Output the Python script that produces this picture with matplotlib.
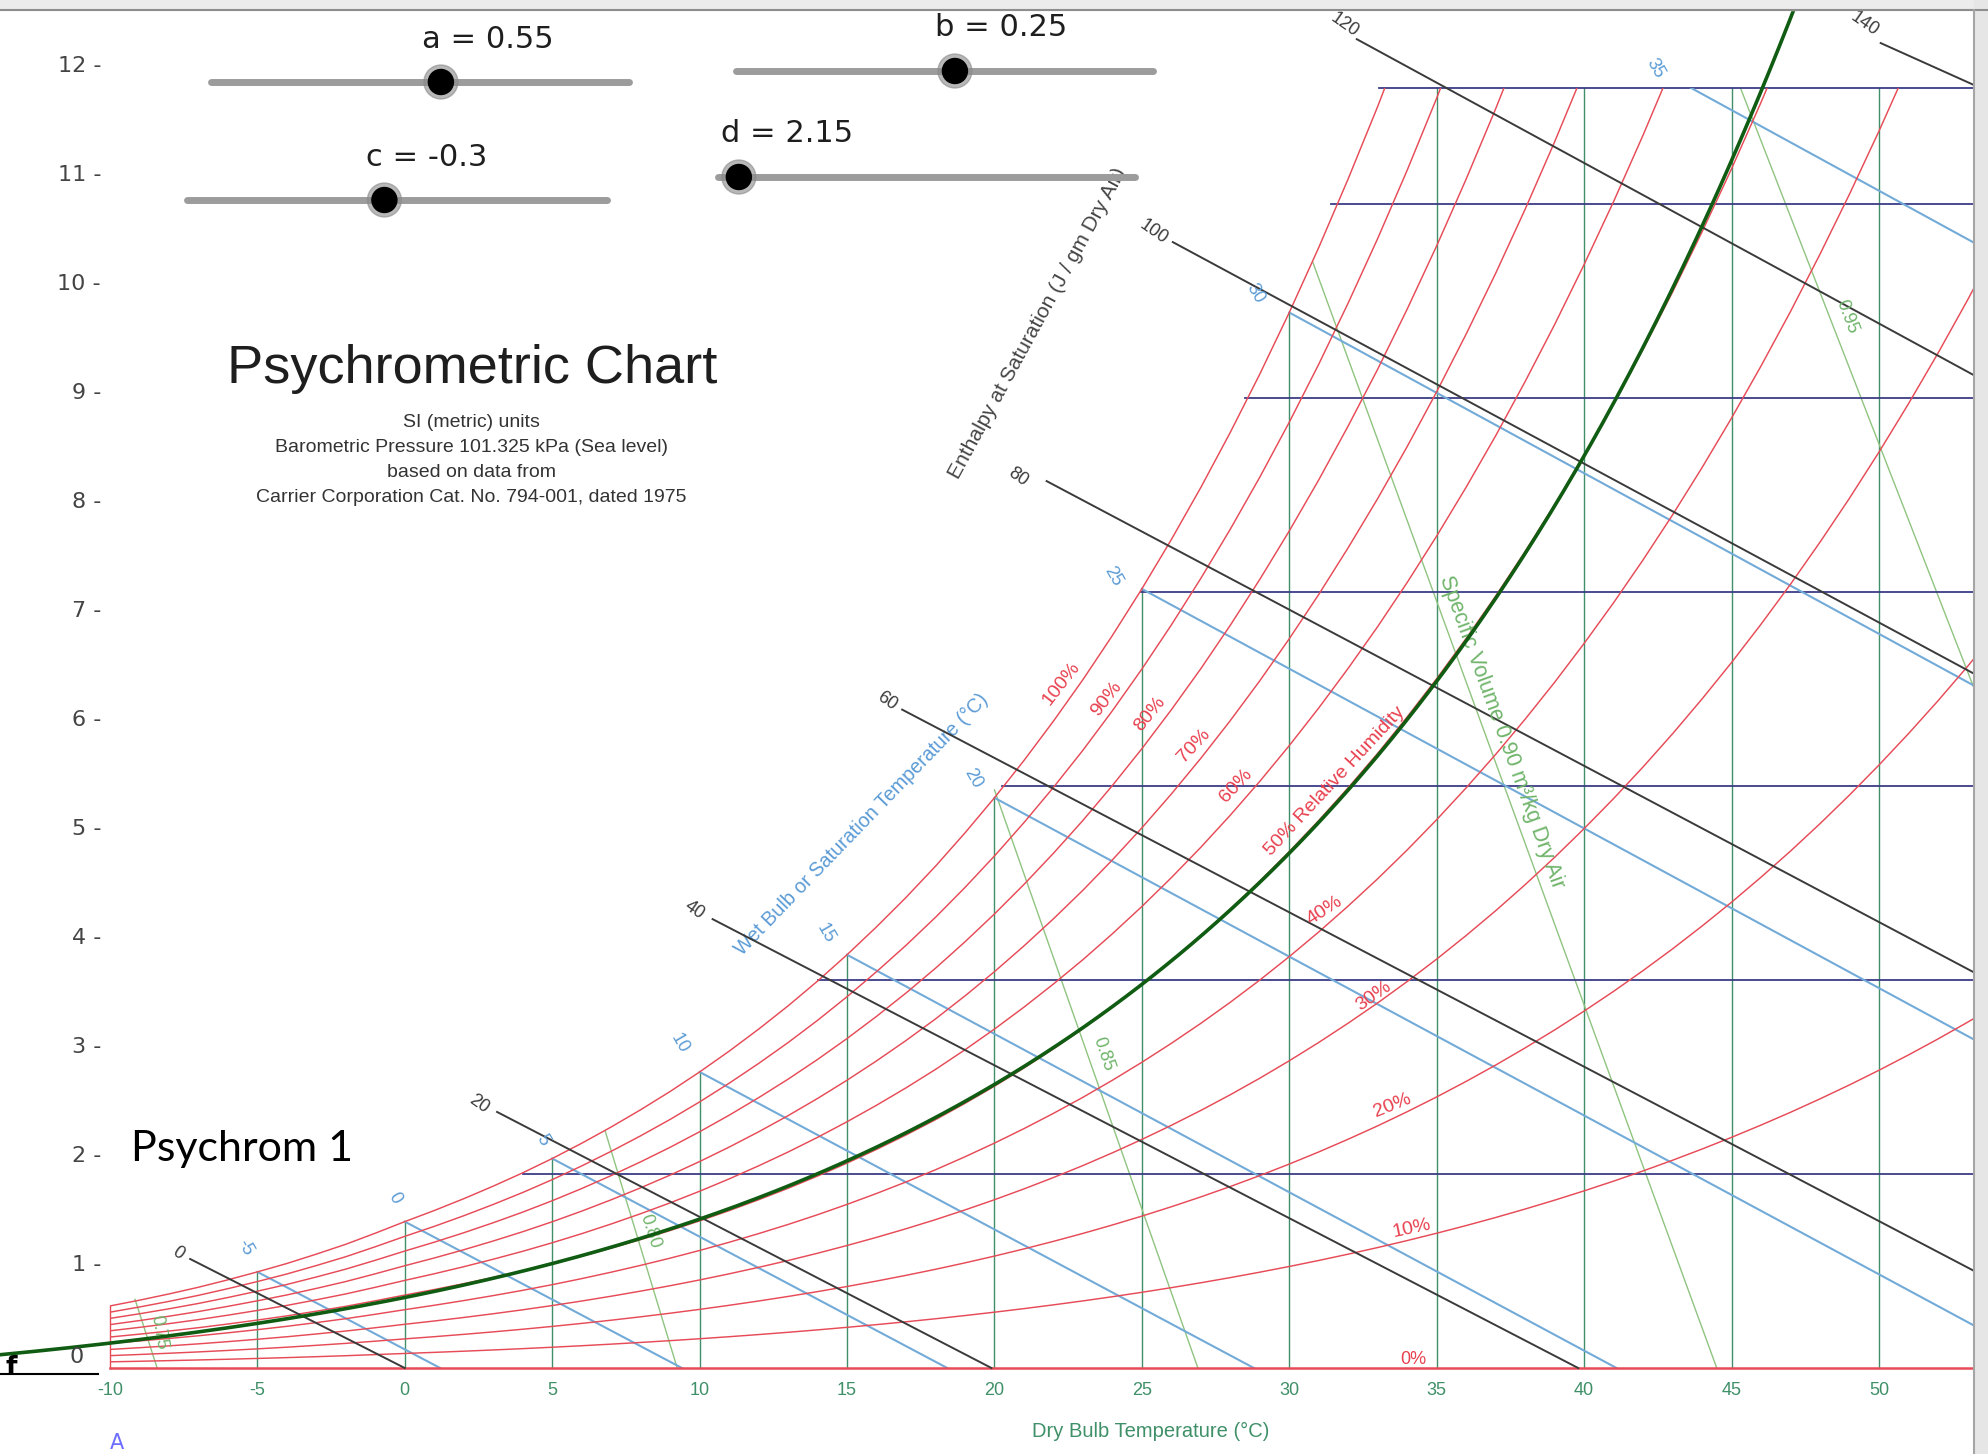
import numpy as np
import matplotlib
matplotlib.use("Agg")
import matplotlib.pyplot as plt
from matplotlib import transforms
from matplotlib.patches import Rectangle, Circle

# saturation vapour pressure of water (kPa), one value per degree C
SAT_T = np.arange(-10, 56)
SAT_P = [0.260, 0.284, 0.310, 0.338, 0.369, 0.402, 0.437, 0.476, 0.517, 0.563,
         0.611, 0.657, 0.706, 0.758, 0.813, 0.872, 0.935, 1.002, 1.073, 1.148,
         1.228, 1.313, 1.403, 1.498, 1.599, 1.706, 1.819, 1.938, 2.064, 2.198,
         2.339, 2.488, 2.645, 2.810, 2.985, 3.169, 3.363, 3.567, 3.782, 4.008,
         4.246, 4.496, 4.759, 5.034, 5.324, 5.628, 5.947, 6.281, 6.632, 6.999,
         7.384, 7.786, 8.208, 8.649, 9.111, 9.593, 10.098, 10.624, 11.175, 11.749,
         12.349, 12.975, 13.628, 14.309, 15.019, 15.758]
P_ATM = 101.325
CHART_TOP = 33.0  # g/kg

RH_LEVELS = [10, 20, 30, 40, 50, 60, 70, 80, 90, 100]
RH_LABELS = ["10%", "20%", "30%", "40%", "50% Relative Humidity", "60%", "70%", "80%", "90%", "100%"]
RH_LABEL_T = [34.14, 33.5, 32.85, 31.2, 31.55, 28.2, 26.77, 25.28, 23.8, 22.26]
RH_LABEL_W = [3.6, 6.76, 9.58, 11.8, 15.13, 15.0, 16.03, 16.86, 17.25, 17.65]
RH_LABEL_ROT = [12, 22, 35, 33, 47, 47, 47, 51, 52, 52]

DB_TEMPS = [-5, 0, 5, 10, 15, 20, 25, 30, 35, 40, 45, 50]

W_LINES = [5, 10, 15, 20, 25, 30, 33]
W_LINE_START = [4.0, 14.0, 20.24, 24.97, 28.5, 31.4, 33.06]

WB_TEMPS = [-5, 0, 5, 10, 15, 20, 25, 30, 35]
WB_END = [1.2, 9.4, 18.4, 28.8, 41.1, 55.9, 73.8, 95.7, 123.0]
WB_LABEL_T = [-5.43, -0.35, 4.68, 9.33, 14.27, 19.26, 24.03, 28.85, 42.4]
WB_LABEL_W = [3.10, 4.38, 5.88, 8.37, 11.2, 15.2, 20.4, 27.7, 33.5]

ENTH = [0, 20, 40, 60, 80, 100, 120, 140]
ENTH_T0 = [-7.28, 3.13, 10.44, 16.87, 21.77, 26.05, 32.29, 50.06]
ENTH_W0 = [2.81, 6.6, 11.57, 16.97, 22.86, 29.02, 34.25, 34.15]
ENTH_T1 = [0.0, 19.9, 39.8, 56.0, 56.0, 56.0, 56.0, 56.0]
ENTH_W1 = [0.0, 0.0, 0.0, 1.40, 9.08, 16.76, 24.44, 32.12]
ENTH_LABEL_T = [-7.71, 2.53, 9.84, 16.37, 20.8, 25.41, 31.86, 49.5]
ENTH_LABEL_W = [2.97, 6.80, 11.80, 17.19, 22.97, 29.28, 34.62, 34.64]

VOL = [0.75, 0.80, 0.85, 0.90, 0.95]
VOL_T0 = [-9.15, 6.8, 20.0, 30.8, 45.3]
VOL_W0 = [1.77, 6.1, 14.9, 28.5, 33.0]
VOL_T1 = [-8.4, 9.24, 26.9, 44.5, 62.2]
VOL_LABELS = ["0.75", "0.80", "0.85", "Specific Volume 0.90 m³/kg Dry Air", "0.95"]
VOL_LABEL_T = [-8.33, 8.33, 23.68, 37.2, 48.9]
VOL_LABEL_W = [0.92, 3.53, 8.10, 16.4, 27.1]
VOL_LABEL_ROT = [-80, -72, -71, -70, -69]

DB_TICKS = [-10, -5, 0, 5, 10, 15, 20, 25, 30, 35, 40, 45, 50]

SUBTITLE = ["SI (metric) units",
            "Barometric Pressure 101.325 kPa (Sea level)",
            "based on data from",
            "Carrier Corporation Cat. No. 794-001, dated 1975"]

# GeoGebra sliders and the function f built from them
SLIDER_NAMES = ["a", "b", "c", "d"]
SLIDER_VALUES = [0.55, 0.25, -0.3, 2.15]
SLIDER_MIN = [0, -5, -5, 2]
SLIDER_MAX = [1, 5, 5, 5]
GG_YTICKS = list(range(1, 13))

SANS = ["Liberation Sans", "DejaVu Sans"]

RED = "#e64b57"
RED_TXT = "#e8404e"
DB_GREEN = "#3f9068"
NAVY = "#3c3c88"
WB_BLUE = "#72aad8"
WB_TXT = "#5b9bd5"
ENTH_C = "#3a3a3a"
VOL_C = "#8fc480"
VOL_TXT = "#6fb46a"

sat_p = np.array(SAT_P)


def hum_ratio(pv):
    return 622.0 * pv / (P_ATM - pv)


w_sat = hum_ratio(sat_p)

fig = plt.figure(figsize=(19.88, 14.54), dpi=100)
fig.patch.set_facecolor("white")

# psychrometric chart: x = dry bulb (C), y = humidity ratio (g/kg)
ax = fig.add_axes([0, 0, 1, 1])
ax.set_xlim(-13.73, 53.70)
ax.set_ylim(-2.216, 35.26)
ax.axis("off")

chart_box = Rectangle((-10, -0.3), 70, CHART_TOP + 0.3, transform=ax.transData)


def clipped(line):
    line.set_clip_path(chart_box)
    return line


# dry bulb verticals
for t in DB_TEMPS:
    top = min(w_sat[t + 10], CHART_TOP)
    ax.plot([t, t], [0, top], color=DB_GREEN, lw=1.0, zorder=2)

# humidity ratio horizontals
for w, t0 in zip(W_LINES, W_LINE_START):
    ax.plot([t0, 56], [w, w], color=NAVY, lw=1.3, zorder=3)

# specific volume lines
for t0, w0, t1 in zip(VOL_T0, VOL_W0, VOL_T1):
    clipped(ax.plot([t0, t1], [w0, 0], color=VOL_C, lw=1.0, zorder=2)[0])

# wet bulb lines
for twb, tend in zip(WB_TEMPS, WB_END):
    clipped(ax.plot([twb, tend], [w_sat[twb + 10], 0], color=WB_BLUE, lw=1.5, zorder=3)[0])

# relative humidity curves
for rh in RH_LEVELS:
    clipped(ax.plot(SAT_T, hum_ratio(rh / 100.0 * sat_p), color=RED, lw=1.05, zorder=4)[0])
ax.plot([-10, 56], [0, 0], color=RED, lw=1.8, zorder=4)
ax.plot([-10, -10], [0, w_sat[0]], color=RED, lw=1.0, zorder=4)

# enthalpy lines
for t0, w0, t1, w1 in zip(ENTH_T0, ENTH_W0, ENTH_T1, ENTH_W1):
    ax.plot([t0, t1], [w0, w1], color=ENTH_C, lw=1.4, zorder=5)

# labels on the chart
for txt, t, w, r in zip(RH_LABELS, RH_LABEL_T, RH_LABEL_W, RH_LABEL_ROT):
    ax.text(t, w, txt, color=RED_TXT, fontsize=14, rotation=r, rotation_mode="anchor",
            ha="center", va="center", family=SANS, zorder=6)
ax.text(34.2, 0.23, "0%", color=RED_TXT, fontsize=13, ha="center", va="center", family=SANS)

for twb, t, w in zip(WB_TEMPS, WB_LABEL_T, WB_LABEL_W):
    ax.text(t, w, str(twb), color=WB_TXT, fontsize=13, rotation=-60, rotation_mode="anchor",
            ha="center", va="center", family=SANS, zorder=6)
ax.text(15.5, 14.0, "Wet Bulb or Saturation Temperature (°C)", color=WB_TXT, fontsize=14.2,
        rotation=46, rotation_mode="anchor", ha="center", va="center", family=SANS)

for h, t, w in zip(ENTH, ENTH_LABEL_T, ENTH_LABEL_W):
    ax.text(t, w, str(h), color=ENTH_C, fontsize=13, rotation=-35, rotation_mode="anchor",
            ha="center", va="center", family=SANS, zorder=6)
ax.text(21.46, 26.93, "Enthalpy at Saturation (J / gm Dry Air)", color="#444444", fontsize=15,
        rotation=61.4, rotation_mode="anchor", ha="center", va="center", family=SANS)

for txt, t, w, r in zip(VOL_LABELS, VOL_LABEL_T, VOL_LABEL_W, VOL_LABEL_ROT):
    ax.text(t, w, txt, color=VOL_TXT, fontsize=15.5 if len(txt) > 5 else 13, rotation=r,
            rotation_mode="anchor", ha="center", va="center", family=SANS, zorder=6)

for t in DB_TICKS:
    ax.text(t, -0.57, str(t), color=DB_GREEN, fontsize=13, ha="center", va="center", family=SANS)
ax.text(25.3, -1.63, "Dry Bulb Temperature (°C)", color=DB_GREEN, fontsize=14.5,
        ha="center", va="center", family=SANS)

ax.text(2.27, 25.75, "Psychrometric Chart", color="#1e1e1e", fontsize=39,
        ha="center", va="center", family=SANS)
for i, line in enumerate(SUBTITLE):
    ax.text(2.27, 24.38 - 0.645 * i, line, color="#333333", fontsize=14,
            ha="center", va="center", family=SANS)

# GeoGebra graphics view
GG_XMIN = -2.72
GG_XMAX = GG_XMIN + 1988 / 136.25
gg = fig.add_axes([0, 0, 1, 1])
gg.set_xlim(GG_XMIN, GG_XMAX)
gg.set_ylim(-0.734, 12.61)
gg.axis("off")

a, b, c, d = SLIDER_VALUES
xs = np.linspace(GG_XMIN, GG_XMAX, 600)
gg.plot(xs, a * np.exp(b * (xs + d)) + c, color="#0f5c12", lw=2.6, zorder=10)

# pixel overlay for widgets and labels
px = fig.add_axes([0, 0, 1, 1])
px.set_xlim(0, 1988)
px.set_ylim(1454, 0)
px.axis("off")

mixed = transforms.blended_transform_factory(px.transData, gg.transData)
for k in GG_YTICKS:
    px.text(101, k, f"{k} -", transform=mixed, color="#444444", fontsize=16,
            ha="right", va="center", family="DejaVu Sans")
px.text(84, 1357, "0", color="#444444", fontsize=16, ha="right", va="center", family="DejaVu Sans")
px.plot([0, 98], [1374, 1374], color="black", lw=1.5)
px.text(6, 1368, "f", color="black", fontsize=19, ha="left", va="center", family="DejaVu Sans",
        fontweight="bold")
px.text(117, 1443, "A", color="#6c6cff", fontsize=15, ha="center", va="center", family="DejaVu Sans")
px.text(131, 1149, "Psychrom 1", color="black", fontsize=31, ha="left", va="center",
        family=["Lato", "DejaVu Sans"])

track_x0 = [211, 736, 187, 718]
track_x1 = [629, 1153, 607, 1135]
track_y = [82, 71, 200, 177]
label_x = [488, 1001, 427, 787]
label_y = [39, 27, 157, 133]
for name, val, lo, hi, x0, x1, ty, lx, ly in zip(SLIDER_NAMES, SLIDER_VALUES, SLIDER_MIN, SLIDER_MAX,
                                              track_x0, track_x1, track_y, label_x, label_y):
    px.plot([x0, x1], [ty, ty], color="#9c9c9c", lw=5, solid_capstyle="round", zorder=3)
    kx = x0 + (val - lo) / (hi - lo) * (x1 - x0)
    px.add_patch(Circle((kx, ty), 17, color="#8a8a8a", alpha=0.6, zorder=4))
    px.add_patch(Circle((kx, ty), 12.5, color="black", zorder=5))
    px.text(lx, ly, f"{name} = {val:g}", color="#1e1e1e", fontsize=22, ha="center", va="center",
            family="DejaVu Sans", zorder=6)

# window frame
px.add_patch(Rectangle((0, 0), 1988, 10, color="#ececec", zorder=20))
px.plot([0, 1988], [10, 10], color="#8e8e8e", lw=1.5, zorder=21)
px.add_patch(Rectangle((1974, 0), 14, 1454, color="#e6e6e6", zorder=20))
px.plot([1974, 1974], [10, 1454], color="#a5a5a5", lw=1.5, zorder=21)

fig.savefig("out.png", dpi=100)
